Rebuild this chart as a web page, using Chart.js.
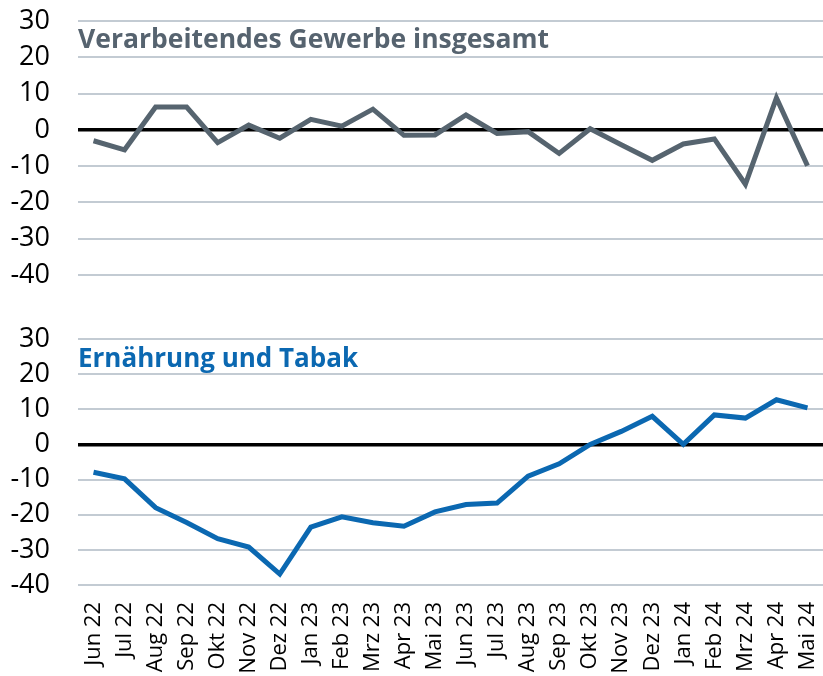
<!DOCTYPE html>
<html>
<head>
<meta charset="utf-8">
<script src="https://cdn.jsdelivr.net/npm/chart.js@4"></script>
<style>
  html, body { margin: 0; padding: 0; background: #fff; }
  #wrap { position: relative; width: 823px; height: 676px; overflow: hidden; }
  .box { position: absolute; left: 0; width: 823px; }
  #topBox { top: 0; height: 300px; }
  #botBox { top: 310px; height: 366px; }
  .ttl { position: absolute; left: 78px; font-family: "Open Sans", sans-serif; font-weight: bold; line-height: 1; white-space: nowrap; }
  #t1 { top: 25px; font-size: 26.5px; color: #56636f; }
  #t2 { top: 344px; font-size: 26px; color: #0b68b1; }
</style>
</head>
<body>
<div id="wrap">
  <div class="box" id="topBox"><canvas id="c1"></canvas></div>
  <div class="box" id="botBox"><canvas id="c2"></canvas></div>
  <div class="ttl" id="t1">Verarbeitendes Gewerbe insgesamt</div>
  <div class="ttl" id="t2">Ernährung und Tabak</div>
</div>
<script>
const months = ["Jun 22","Jul 22","Aug 22","Sep 22","Okt 22","Nov 22","Dez 22",
  "Jan 23","Feb 23","Mrz 23","Apr 23","Mai 23","Jun 23","Jul 23","Aug 23","Sep 23","Okt 23","Nov 23","Dez 23",
  "Jan 24","Feb 24","Mrz 24","Apr 24","Mai 24"];
const gewerbeValues = [-3.0, -5.5, 6.3, 6.3, -3.5, 1.3, -2.3, 2.9, 1.0, 5.7, -1.5, -1.4,
  4.1, -1.0, -0.5, -6.5, 0.3, -4.1, -8.4, -3.9, -2.5, -15.0, 8.8, -9.9];
const ernaehrungValues = [-7.9, -9.8, -18.0, -22.2, -26.8, -29.2, -36.9, -23.5, -20.6, -22.3, -23.3, -19.2,
  -17.1, -16.7, -9.0, -5.5, 0.0, 3.7, 8.0, 0.0, 8.4, 7.5, 12.7, 10.4];
const yMin = -40, yMax = 30, yStep = 10;

const gridColor = "#c3cbd3";
const tickFont = { family: "Open Sans", size: 27, lineHeight: 1.2 };

function makeChart(id, values, color, showX, padding) {
  return new Chart(document.getElementById(id), {
    type: "line",
    data: {
      labels: months,
      datasets: [{
        data: values,
        borderColor: color,
        borderWidth: 5,
        pointRadius: 0,
        pointHoverRadius: 0,
        tension: 0,
        fill: false
      }]
    },
    options: {
      responsive: true,
      maintainAspectRatio: false,
      animation: false,
      events: [],
      layout: { padding: padding },
      plugins: { legend: { display: false }, tooltip: { enabled: false }, title: { display: false } },
      scales: {
        x: {
          display: showX,
          offset: true,
          grid: { display: false, drawTicks: false },
          border: { display: false },
          ticks: {
            autoSkip: false, maxRotation: 90, minRotation: 90, padding: 17,
            color: "#000", font: { family: "Open Sans", size: 22, lineHeight: 1.2 }
          },
          afterFit: (s) => {
            s.paddingLeft = 0; s.paddingRight = 0;
            if (showX) s.height = 91;
          }
        },
        y: {
          min: yMin, max: yMax,
          grid: {
            drawTicks: true,
            tickLength: 28,
            tickColor: "rgba(0,0,0,0)",
            color: (ctx) => ctx.tick && ctx.tick.value === 0 ? "#000" : gridColor,
            lineWidth: (ctx) => ctx.tick && ctx.tick.value === 0 ? 3.5 : 2
          },
          border: { display: false },
          ticks: { stepSize: yStep, autoSkip: false, padding: 0, color: "#000", font: tickFont },
          afterFit: (s) => { s.width = 78; }
        }
      }
    }
  });
}

makeChart("c1", gewerbeValues, "#56646f", false, { top: 21, bottom: 25, left: 0, right: 0 });
makeChart("c2", ernaehrungValues, "#0b68b1", true, { top: 29, bottom: 0, left: 0, right: 0 });
</script>
</body>
</html>
